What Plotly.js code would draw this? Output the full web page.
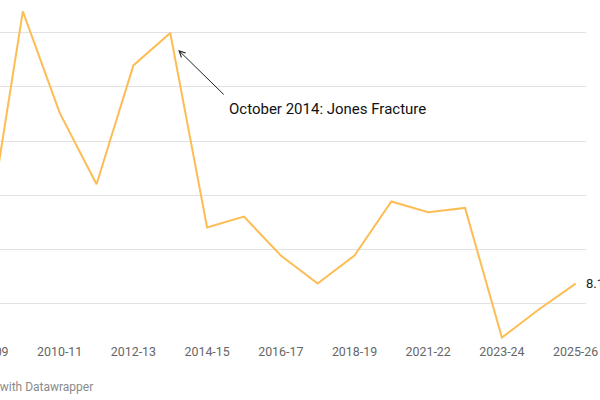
<!DOCTYPE html>
<html>
<head>
<meta charset="utf-8">
<script src="https://cdn.plot.ly/plotly-3.0.1.min.js"></script>
<style>
  html, body { margin: 0; padding: 0; width: 600px; height: 400px; overflow: hidden; background: #fff; }
  #chart { position: absolute; left: -60px; top: 0; width: 660px; height: 400px; }
</style>
</head>
<body>
<div id="chart"></div>
<script>
const seasons = ['2008-09','2009-10','2010-11','2011-12','2012-13','2013-14','2014-15','2015-16','2016-17','2017-18','2018-19','2020-21','2021-22','2022-23','2023-24','2024-25','2025-26'];
const values = [8.27, 9.35, 8.88, 8.55, 9.10, 9.25, 8.35, 8.40, 8.22, 8.09, 8.22, 8.47, 8.42, 8.44, 7.84, 7.97, 8.09];
const tickLabels = ['2008-09','2010-11','2012-13','2014-15','2016-17','2018-19','2021-22','2023-24','2025-26'];
const annotationSeason = '2013-14';
const annotationText = 'October 2014: Jones Fracture';
const footerText = 'Created with Datawrapper';

const lastIdx = values.length - 1;
const annIdx = seasons.indexOf(annotationSeason);

const trace = {
  x: seasons,
  y: values,
  type: 'scatter',
  mode: 'lines',
  line: { color: '#fdbd55', width: 2 },
  hoverinfo: 'skip',
  cliponaxis: true
};

const layout = {
  width: 660,
  height: 400,
  margin: { l: 0, r: 14, t: 5, b: 60 },
  paper_bgcolor: '#ffffff',
  plot_bgcolor: '#ffffff',
  showlegend: false,
  font: { family: 'Roboto, sans-serif', size: 12, color: '#666' },
  xaxis: {
    type: 'category',
    range: [-1.248, 16.282],
    tickmode: 'array',
    tickvals: tickLabels,
    ticktext: tickLabels,
    showgrid: false,
    zeroline: false,
    showline: false,
    ticks: '',
    ticklabelstandoff: 3,
    tickfont: { family: 'Roboto, sans-serif', size: 12.4, color: '#666' },
    fixedrange: true
  },
  yaxis: {
    range: [7.8287, 9.3796],
    tickmode: 'linear',
    tick0: 8,
    dtick: 0.25,
    showticklabels: false,
    showgrid: true,
    gridcolor: '#e2e2e2',
    gridwidth: 1,
    zeroline: false,
    showline: false,
    ticks: '',
    fixedrange: true
  },
  annotations: [
    {
      x: seasons[annIdx], y: values[annIdx],
      xref: 'x', yref: 'y',
      text: '',
      showarrow: true,
      arrowhead: 5,
      arrowsize: 1.2,
      arrowwidth: 1,
      arrowcolor: '#222',
      xshift: 8, yshift: -17,
      ax: 47, ay: 46,
      standoff: 0
    },
    {
      x: seasons[annIdx], y: values[annIdx],
      xref: 'x', yref: 'y',
      text: annotationText,
      showarrow: false,
      xanchor: 'left', yanchor: 'middle',
      xshift: 57, yshift: -76,
      font: { family: 'Roboto, sans-serif', size: 15, color: '#111' }
    },
    {
      x: seasons[lastIdx], y: values[lastIdx],
      xref: 'x', yref: 'y',
      text: values[lastIdx].toFixed(1),
      showarrow: false,
      xanchor: 'left', yanchor: 'middle',
      xshift: 8,
      font: { family: 'Roboto, sans-serif', size: 13, color: '#222' }
    },
    {
      x: 0, y: 0,
      xref: 'paper', yref: 'paper',
      text: footerText,
      showarrow: false,
      xanchor: 'left', yanchor: 'middle',
      xshift: 13, yshift: -47,
      font: { family: 'Roboto, sans-serif', size: 12, color: '#8a8a8a' }
    }
  ]
};

Plotly.newPlot('chart', [trace], layout, { displayModeBar: false, staticPlot: true });
</script>
</body>
</html>
